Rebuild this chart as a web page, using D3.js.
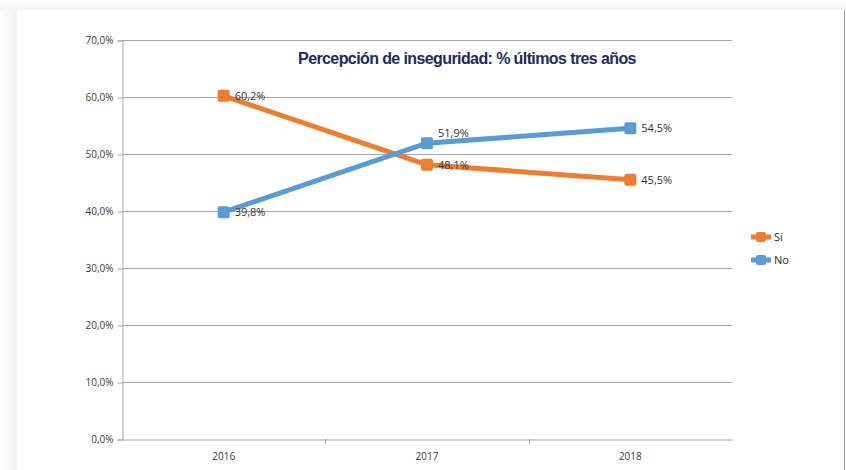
<!DOCTYPE html>
<html lang="es">
<head>
<meta charset="UTF-8" />
<title>Percepción de inseguridad</title>
<style>
  body { margin: 0; background: #fff; }
  svg { display: block; }
</style>
</head>
<body>
<svg id="chart" width="846" height="470"></svg>
<script src="https://d3js.org/d3.v7.min.js"></script>
<script>
// data
const years = ['2016', '2017', '2018'];
const si = [60.2, 48.1, 45.5];
const no = [39.8, 51.9, 54.5];
const yTicks = [0, 10, 20, 30, 40, 50, 60, 70];
const title = 'Percepción de inseguridad: % últimos tres años';

// label vertical nudges (px) per point
const siLabelDy = [4, 4, 4];
const noLabelDy = [4, -6, 4];

const series = [
  { name: 'Si', values: si, color: '#ED7D31', labelDy: siLabelDy },
  { name: 'No', values: no, color: '#5B9BD5', labelDy: noLabelDy }
];

const svg = d3.select('#chart');
const plotLeft = 122, plotRight = 732, plotTop = 40, plotBottom = 439;

// soft shadow around the card
const defs = svg.append('defs');
const gl = defs.append('linearGradient').attr('id', 'shL');
gl.append('stop').attr('offset', 0).attr('stop-color', '#ffffff');
gl.append('stop').attr('offset', 1).attr('stop-color', '#f1f1f1');
const gt = defs.append('linearGradient').attr('id', 'shT').attr('x1', 0).attr('x2', 0).attr('y1', 0).attr('y2', 1);
gt.append('stop').attr('offset', 0).attr('stop-color', '#ffffff');
gt.append('stop').attr('offset', 1).attr('stop-color', '#f3f3f3');
svg.append('rect').attr('x', 0).attr('y', 0).attr('width', 846).attr('height', 10).attr('fill', 'url(#shT)');
svg.append('rect').attr('x', 0).attr('y', 10).attr('width', 17).attr('height', 460).attr('fill', 'url(#shL)');
svg.append('line').attr('x1', 844.5).attr('x2', 844.5).attr('y1', 10).attr('y2', 470)
  .attr('stroke', '#9a9a9a').attr('stroke-width', 1);

// scales
const x = d3.scaleBand().domain(years).range([plotLeft, plotRight]).padding(0);
const y = d3.scaleLinear().domain([0, 70]).range([plotBottom, plotTop]);
const cx = d => x(d) + x.bandwidth() / 2;

// gridlines
svg.append('g')
  .selectAll('line')
  .data(yTicks.filter(t => t > 0))
  .join('line')
  .attr('x1', plotLeft).attr('x2', plotRight)
  .attr('y1', d => Math.round(y(d)) + 0.5).attr('y2', d => Math.round(y(d)) + 0.5)
  .attr('stroke', '#a6a6a6').attr('stroke-width', 1);

// y axis
const yAxis = svg.append('g')
  .attr('transform', `translate(${plotLeft + 0.5},0.5)`)
  .call(d3.axisLeft(y).tickValues(yTicks).tickSize(5).tickPadding(4)
    .tickFormat(d => d.toFixed(1).replace('.', ',') + '%'));
yAxis.select('.domain').attr('stroke', '#a6a6a6');
yAxis.selectAll('.tick line').attr('stroke', '#a6a6a6');
yAxis.selectAll('text').attr('fill', '#3a3a3a')
  .style('font-family', 'Open Sans, sans-serif').style('font-size', '10px');

// x axis
const xAxis = svg.append('g')
  .attr('transform', `translate(0,${plotBottom + 0.5})`)
  .call(d3.axisBottom(x).tickSize(0).tickPadding(13));
xAxis.select('.domain').attr('stroke', '#a6a6a6');
xAxis.selectAll('text').attr('fill', '#3a3a3a')
  .style('font-family', 'Open Sans, sans-serif').style('font-size', '10px');
// category separators
svg.append('g')
  .selectAll('line')
  .data(years.slice(1))
  .join('line')
  .attr('x1', d => Math.round(x(d)) + 0.5).attr('x2', d => Math.round(x(d)) + 0.5)
  .attr('y1', plotBottom).attr('y2', plotBottom + 5)
  .attr('stroke', '#a6a6a6');

// lines
const line = d3.line().x((d, i) => cx(years[i])).y(d => y(d));
series.forEach(s => {
  const g = svg.append('g');
  g.append('path')
    .attr('d', line(s.values))
    .attr('fill', 'none')
    .attr('stroke', s.color)
    .attr('stroke-width', 5)
    .attr('stroke-linejoin', 'round');
  g.selectAll('rect')
    .data(s.values)
    .join('rect')
    .attr('x', (d, i) => cx(years[i]) - 6)
    .attr('y', d => y(d) - 6)
    .attr('width', 12).attr('height', 12)
    .attr('rx', 2)
    .attr('fill', s.color);
  g.selectAll('text')
    .data(s.values)
    .join('text')
    .attr('x', (d, i) => cx(years[i]) + 11)
    .attr('y', (d, i) => y(d) + s.labelDy[i])
    .attr('fill', '#333333')
    .style('font-family', 'Open Sans, sans-serif')
    .style('font-size', '11px')
    .text(d => d.toFixed(1).replace('.', ',') + '%');
});

// title
svg.append('text')
  .attr('x', 467).attr('y', 64)
  .attr('text-anchor', 'middle')
  .attr('fill', '#1c2b5a')
  .style('font-family', 'Liberation Sans, Arial, sans-serif')
  .style('font-weight', 'bold')
  .style('font-size', '16px')
  .style('letter-spacing', '-0.6px')
  .text(title);

// legend
const legend = svg.append('g').attr('transform', 'translate(751,237)');
series.forEach((s, i) => {
  const row = legend.append('g').attr('transform', `translate(0,${i * 23})`);
  row.append('line').attr('x1', 0).attr('x2', 20).attr('y1', 0).attr('y2', 0)
    .attr('stroke', s.color).attr('stroke-width', 5);
  row.append('rect').attr('x', 5).attr('y', -5).attr('width', 10).attr('height', 10)
    .attr('rx', 2).attr('fill', s.color);
  row.append('text').attr('x', 23).attr('y', 4)
    .attr('fill', '#262626')
    .style('font-family', 'Open Sans, sans-serif').style('font-size', '11px')
    .text(s.name);
});
</script>
</body>
</html>
